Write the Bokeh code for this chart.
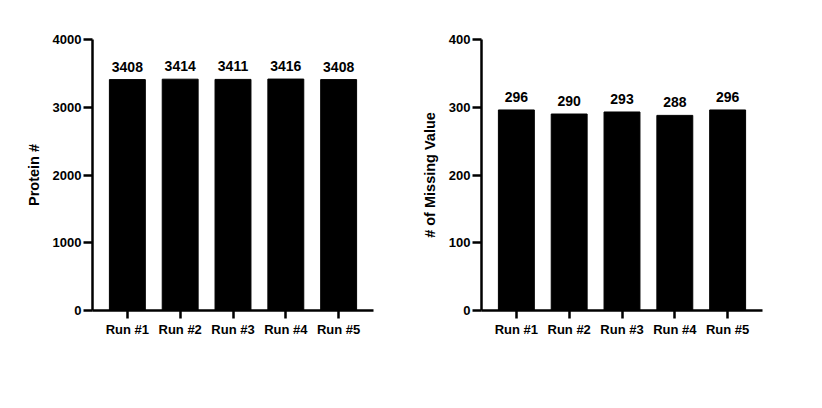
from bokeh.plotting import figure
from bokeh.models import FactorRange, Range1d, FixedTicker, ColumnDataSource, LabelSet
from bokeh.core.properties import value
from bokeh.layouts import row
from bokeh.embed import file_html
from bokeh.resources import INLINE

runs = ["Run #1", "Run #2", "Run #3", "Run #4", "Run #5"]
protein_counts = [3408, 3414, 3411, 3416, 3408]
missing_counts = [296, 290, 293, 288, 296]

FONT = "Liberation Sans"


def make_panel(values, ymax, yticks, ylabel, width, border_left, border_right):
    src = ColumnDataSource(dict(x=runs, top=values, lab=[str(v) for v in values]))
    p = figure(x_range=FactorRange(factors=runs, range_padding=0.064, range_padding_units="percent"),
               y_range=Range1d(0, ymax),
               width=width, height=380, output_backend="svg", toolbar_location=None,
               min_border_left=border_left, min_border_right=border_right,
               min_border_top=39, min_border_bottom=70)
    p.vbar(x="x", top="top", width=0.68, source=src, fill_color="black", line_color="black")
    labels = LabelSet(x="x", y="top", text="lab", source=src, y_offset=8,
                      text_align="center", text_baseline="alphabetic",
                      text_font=value(FONT), text_font_style="bold", text_font_size="14px",
                      text_color="black")
    p.add_layout(labels)
    p.outline_line_color = None
    p.xgrid.grid_line_color = None
    p.ygrid.grid_line_color = None
    p.background_fill_color = "white"
    p.border_fill_color = "white"

    p.yaxis.ticker = FixedTicker(ticks=yticks)
    p.yaxis.minor_tick_line_color = None
    p.yaxis.axis_label = ylabel
    for ax in (p.xaxis[0], p.yaxis[0]):
        ax.axis_line_color = "black"
        ax.axis_line_width = 2.5
        ax.major_tick_line_color = "black"
        ax.major_tick_line_width = 2.5
        ax.major_tick_out = 9
        ax.major_tick_in = 0
        ax.major_label_text_font = FONT
        ax.major_label_text_font_style = "bold"
        ax.major_label_text_font_size = "13px"
        ax.major_label_text_color = "black"
        ax.axis_label_text_font = FONT
        ax.axis_label_text_font_style = "bold"
        ax.axis_label_text_font_size = "14.5px"
        ax.axis_label_text_color = "black"
    p.yaxis.major_label_standoff = 2
    p.yaxis.axis_label_standoff = 8
    p.xaxis.major_tick_out = 8
    p.xaxis.major_label_standoff = 3
    return p


p1 = make_panel(protein_counts, 4000, [0, 1000, 2000, 3000, 4000], "Protein #", 397, 92, 24)
p2 = make_panel(missing_counts, 400, [0, 100, 200, 300, 400], "# of Missing Value", 405, 84, 40)

layout = row(p1, p2)
open("out.html", "w").write(file_html(layout, INLINE))
